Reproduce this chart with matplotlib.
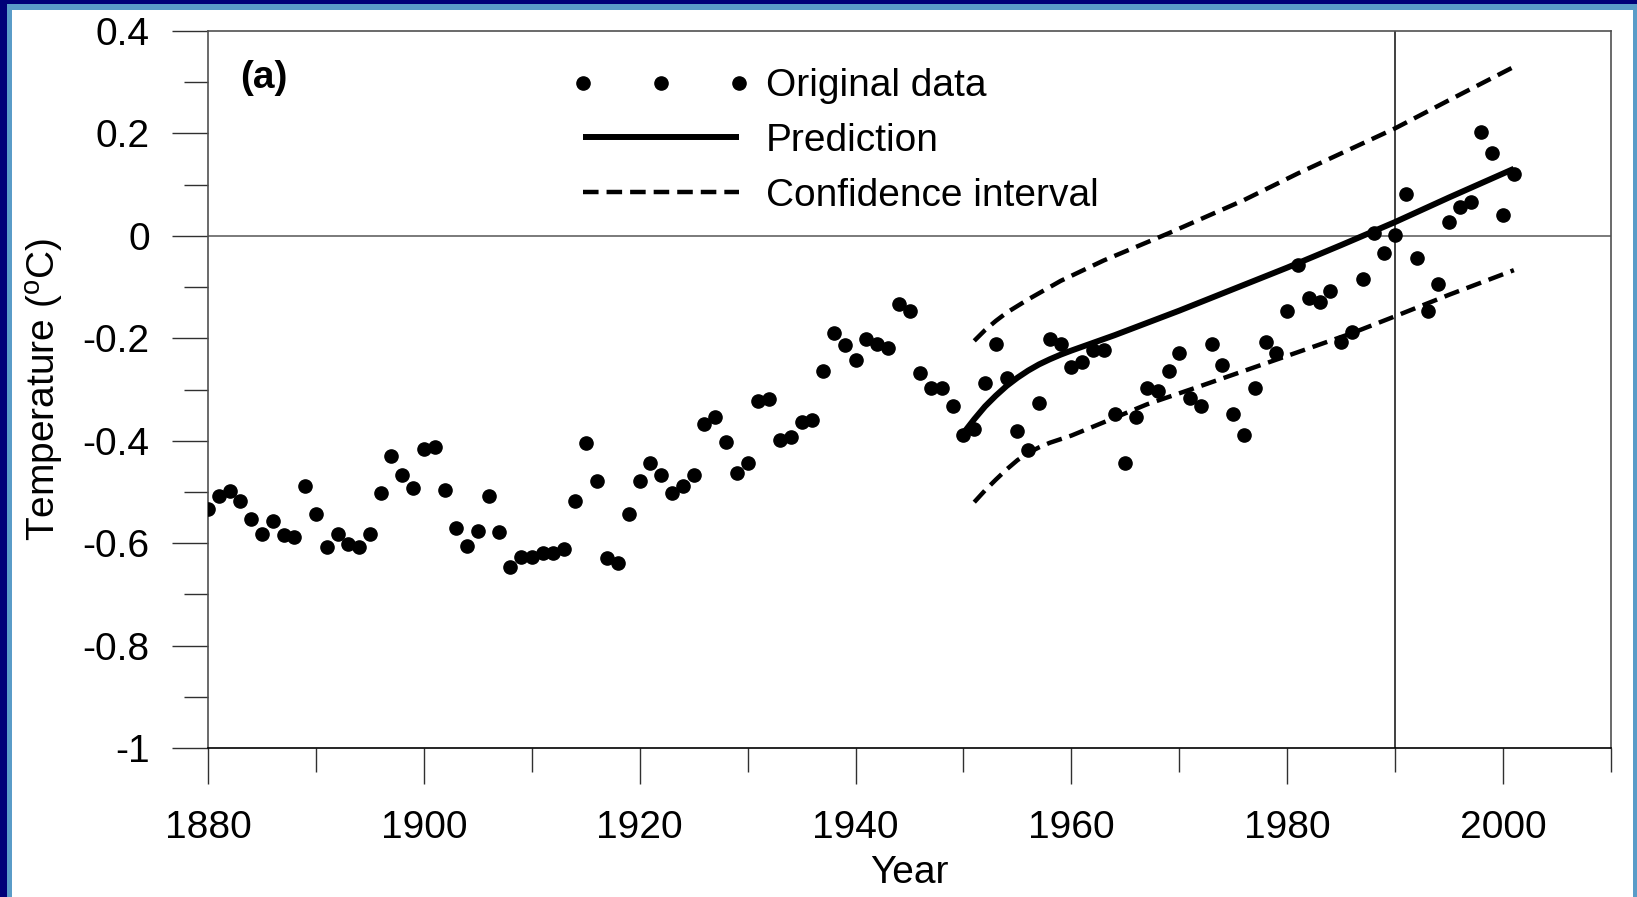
import matplotlib
matplotlib.use("Agg")
import matplotlib.pyplot as plt
from matplotlib.patches import Rectangle

plt.rcParams['font.family'] = ['Liberation Sans', 'DejaVu Sans']
plt.rcParams['mathtext.fontset'] = 'custom'
plt.rcParams['mathtext.rm'] = 'Liberation Sans'
plt.rcParams['axes.unicode_minus'] = False

# ---- data ----
years = list(range(1880, 2002))
temps = [
    -0.533, -0.508, -0.498, -0.518, -0.553, -0.582, -0.557, -0.584, -0.588, -0.488,  # 1880-1889
    -0.543, -0.608, -0.582, -0.602, -0.608, -0.582, -0.502, -0.429, -0.467, -0.492,  # 1890-1899
    -0.416, -0.412, -0.496, -0.571, -0.606, -0.576, -0.508, -0.578, -0.647, -0.627,  # 1900-1909
    -0.627, -0.620, -0.620, -0.612, -0.518, -0.404, -0.478, -0.629, -0.639, -0.543,  # 1910-1919
    -0.478, -0.443, -0.467, -0.502, -0.488, -0.467, -0.367, -0.353, -0.402, -0.463,  # 1920-1929
    -0.443, -0.322, -0.318, -0.398, -0.392, -0.363, -0.359, -0.263, -0.190, -0.214,  # 1930-1939
    -0.243, -0.202, -0.212, -0.218, -0.133, -0.147, -0.267, -0.298, -0.298, -0.333,  # 1940-1949
    -0.388, -0.378, -0.288, -0.212, -0.278, -0.382, -0.418, -0.327, -0.202, -0.212,  # 1950-1959
    -0.257, -0.247, -0.222, -0.222, -0.347, -0.443, -0.353, -0.298, -0.302, -0.263,  # 1960-1969
    -0.229, -0.316, -0.333, -0.212, -0.253, -0.347, -0.388, -0.298, -0.208, -0.229,  # 1970-1979
    -0.147, -0.057, -0.122, -0.129, -0.108, -0.208, -0.188, -0.084, 0.006, -0.033,   # 1980-1989
    0.002, 0.082, -0.043, -0.147, -0.094, 0.027, 0.057, 0.067, 0.202, 0.161,         # 1990-1999
    0.041, 0.120,                                                                    # 2000-2001
]

pred_years = [1950, 1951, 1952, 1953, 1954, 1955, 1956, 1957, 1958, 1959, 1960, 1962, 1964,
              1967, 1970, 1975, 1980, 1985, 1990, 1995, 2001]
pred_vals = [-0.385, -0.358, -0.333, -0.312, -0.293, -0.277, -0.263, -0.251, -0.241, -0.232,
             -0.224, -0.209, -0.194, -0.170, -0.146, -0.104, -0.062, -0.018, 0.027, 0.075, 0.131]

ciu_years = [1951, 1952, 1953, 1954, 1956, 1959, 1963, 1969, 1976, 1981, 1990, 1995, 2001]
ci_upper = [-0.205, -0.184, -0.166, -0.150, -0.124, -0.088, -0.048, 0.005, 0.070, 0.122, 0.210, 0.265, 0.330]

cil_years = [1951, 1952, 1953, 1954, 1955, 1956, 1957, 1958, 1960, 1963, 1967, 1972, 1981, 1986,
             1990, 1995, 2001]
ci_lower = [-0.520, -0.497, -0.476, -0.456, -0.438, -0.424, -0.413, -0.404, -0.390, -0.364,
            -0.329, -0.293, -0.227, -0.190, -0.157, -0.115, -0.067]

xticks = [1880, 1900, 1920, 1940, 1960, 1980, 2000]
xticklabels = ['1880', '1900', '1920', '1940', '1960', '1980', '2000']
yticks = [-1.0, -0.8, -0.6, -0.4, -0.2, 0.0, 0.2, 0.4]
yticklabels = ['-1', '-0.8', '-0.6', '-0.4', '-0.2', '0', '0.2', '0.4']

# ---- figure ----
W, H = 1637, 897
fig = plt.figure(figsize=(W / 100, H / 100), dpi=100)
fig.patch.set_facecolor('white')

def frect(x0, y0, w, h, color):
    fig.add_artist(Rectangle((x0 / W, y0 / H), w / W, h / H, transform=fig.transFigure,
                             facecolor=color, edgecolor='none', zorder=-10))

lightblue = '#5a9cc8'
navy = '#000078'
frect(0, H - 10, W, 10, lightblue)
frect(0, 0, 12, H, lightblue)
frect(W - 4, 0, 4, H, lightblue)
frect(0, H - 4, W, 4, navy)
frect(0, 0, 7, H, navy)

ax = fig.add_axes([208 / W, 1 - 748 / H, (1611 - 208) / W, (748 - 31) / H])
ax.set_facecolor('white')

ax.axhline(0, color='#707070', lw=1.3, zorder=1)
ax.axvline(1990, color='#202020', lw=1.2, zorder=1)

ax.plot(years, temps, ls='none', marker='o', ms=9.5, color='black', label='Original data', zorder=3)
ax.plot(pred_years, pred_vals, color='black', lw=4.3, label='Prediction', zorder=4,
        solid_capstyle='butt', solid_joinstyle='round')
ax.plot(ciu_years, ci_upper, color='black', lw=3.2, ls=(0, (3.5, 1.8)), label='Confidence interval', zorder=4)
ax.plot(cil_years, ci_lower, color='black', lw=3.2, ls=(0, (3.5, 1.8)), zorder=4)

ax.set_xlim(1880, 2010)
ax.set_ylim(-1.0, 0.4)
ax.set_xticks(xticks)
ax.set_xticklabels(xticklabels)
ax.set_xticks([1890, 1910, 1930, 1950, 1970, 1990, 2010], minor=True)
ax.set_yticks(yticks)
ax.set_yticklabels(yticklabels)
ax.set_yticks([-0.9, -0.7, -0.5, -0.3, -0.1, 0.1, 0.3], minor=True)

ax.tick_params(axis='both', which='major', direction='out', length=26, width=1.0,
               labelsize=28, color='#303030')
ax.tick_params(axis='both', which='minor', direction='out', length=17, width=1.0, color='#303030')
ax.tick_params(axis='y', which='major', pad=16)
ax.tick_params(axis='x', which='major', pad=19)

for s in ['left', 'right', 'top']:
    ax.spines[s].set_color('#505050')
    ax.spines[s].set_linewidth(1.2)
ax.spines['bottom'].set_color('black')
ax.spines['bottom'].set_linewidth(1.2)

ax.set_xlabel('Year', fontsize=28, labelpad=6)
ax.set_ylabel(r'Temperature ($^{\mathrm{o}}$C)', fontsize=28, labelpad=12)

ax.text(0.0228, 0.934, '(a)', transform=ax.transAxes, fontsize=28, fontweight='bold',
        ha='left', va='center')

leg = ax.legend(loc='upper left', bbox_to_anchor=(0.2590, 0.948), frameon=False,
                fontsize=28, numpoints=3, handlelength=4.6, handletextpad=0.40,
                borderpad=0, borderaxespad=0, labelspacing=0.48)

fig.savefig('out.png', dpi=100, facecolor=fig.get_facecolor())
